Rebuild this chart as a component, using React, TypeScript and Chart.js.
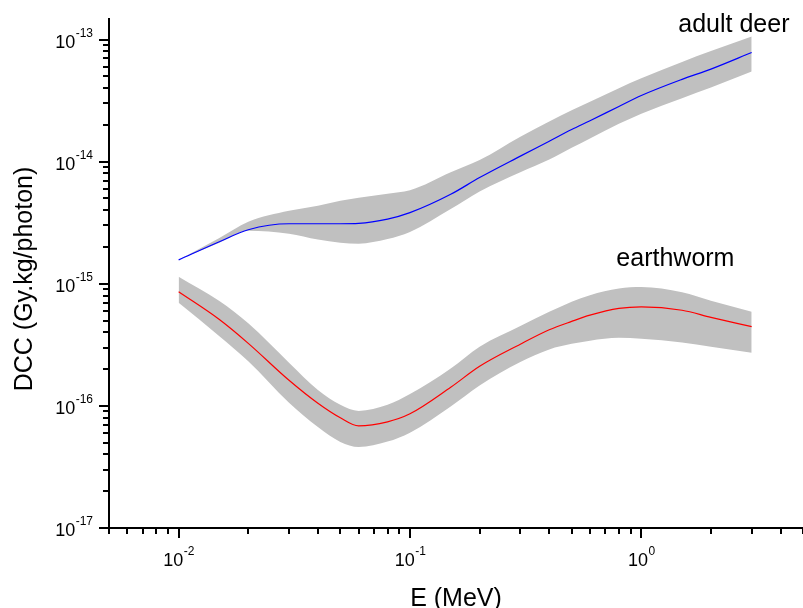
import React, { useEffect, useRef } from "react";
import { Chart, registerables } from "chart.js";

Chart.register(...registerables);

const energies = [0.01, 0.015, 0.02, 0.03, 0.04, 0.05, 0.06, 0.08, 0.1, 0.15, 0.2, 0.3, 0.4, 0.5, 0.6, 0.8, 1, 1.5, 2, 3];

const deerCenter = [1.57e-15, 2.21e-15, 2.77e-15, 3.10e-15, 3.10e-15, 3.10e-15, 3.12e-15, 3.38e-15, 3.82e-15, 5.40e-15, 7.41e-15, 1.11e-14, 1.47e-14, 1.83e-14, 2.16e-14, 2.83e-14, 3.48e-14, 4.72e-14, 5.72e-14, 7.82e-14];
const deerUpper = [1.57e-15, 2.37e-15, 3.22e-15, 3.96e-15, 4.36e-15, 4.79e-15, 5.07e-15, 5.47e-15, 5.82e-15, 8.18e-15, 1.03e-14, 1.60e-14, 2.13e-14, 2.63e-14, 3.09e-14, 3.99e-14, 4.81e-14, 6.55e-14, 8.04e-14, 1.06e-13];
const deerLower = [1.57e-15, 2.17e-15, 2.72e-15, 2.57e-15, 2.30e-15, 2.17e-15, 2.13e-15, 2.32e-15, 2.65e-15, 4.09e-15, 5.70e-15, 8.20e-15, 1.04e-14, 1.30e-14, 1.55e-14, 2.04e-14, 2.47e-14, 3.31e-14, 4.04e-14, 5.47e-14];

const wormCenter = [8.59e-16, 5.09e-16, 3.25e-16, 1.62e-16, 1.05e-16, 7.98e-17, 6.85e-17, 7.40e-17, 8.61e-17, 1.42e-16, 2.11e-16, 3.20e-16, 4.20e-16, 4.92e-16, 5.53e-16, 6.28e-16, 6.47e-16, 6.07e-16, 5.31e-16, 4.45e-16];
const wormUpper = [1.14e-15, 7.21e-16, 4.74e-16, 2.26e-16, 1.35e-16, 1.02e-16, 9.10e-17, 1.02e-16, 1.25e-16, 2.02e-16, 3.05e-16, 4.50e-16, 5.89e-16, 7.13e-16, 8.07e-16, 9.14e-16, 9.40e-16, 8.51e-16, 7.26e-16, 5.89e-16];
const wormLower = [6.98e-16, 3.72e-16, 2.32e-16, 1.06e-16, 6.71e-17, 5.07e-17, 4.61e-17, 5.10e-17, 6.03e-17, 9.89e-17, 1.47e-16, 2.29e-16, 2.90e-16, 3.22e-16, 3.42e-16, 3.61e-16, 3.54e-16, 3.31e-16, 3.05e-16, 2.72e-16];

const xMajorExponents = [-2, -1, 0];
const yMajorExponents = [-17, -16, -15, -14, -13];
const xTitle = "E (MeV)";
const yTitle = "DCC (Gy.kg/photon)";
const annotations = [
  { text: "adult deer", x: 1.445, y: 1.16e-13 },
  { text: "earthworm", x: 0.78, y: 1.41e-15 },
];

const FONT = "'Liberation Sans', Arial, sans-serif";

const pts = (ys: number[]) => energies.map((e, i) => ({ x: e, y: ys[i] }));

const axesPlugin = {
  id: "customAxes",
  afterDraw(chart: any) {
    const ctx = chart.ctx as CanvasRenderingContext2D;
    const xs = chart.scales.x;
    const ys = chart.scales.y;
    const area = chart.chartArea;
    ctx.save();
    ctx.strokeStyle = "#000";
    ctx.fillStyle = "#000";
    ctx.lineWidth = 2;
    ctx.beginPath();
    ctx.moveTo(area.left, area.top);
    ctx.lineTo(area.left, area.bottom + 1);
    ctx.moveTo(area.left - 1, area.bottom);
    ctx.lineTo(area.right, area.bottom);
    ctx.stroke();
    for (let d = -3; d <= 1; d++) {
      for (let m = 1; m <= 9; m++) {
        const v = m * Math.pow(10, d);
        if (v < xs.min * 0.999 || v > xs.max * 1.001) continue;
        const px = Math.round(xs.getPixelForValue(v));
        const len = m === 1 ? 10 : 6;
        ctx.beginPath();
        ctx.moveTo(px, area.bottom);
        ctx.lineTo(px, area.bottom + len);
        ctx.stroke();
      }
    }
    for (let d = -18; d <= -12; d++) {
      for (let m = 1; m <= 9; m++) {
        const v = m * Math.pow(10, d);
        if (v < ys.min * 0.999 || v > ys.max * 1.001) continue;
        const py = Math.round(ys.getPixelForValue(v));
        const len = m === 1 ? 10 : 6;
        ctx.beginPath();
        ctx.moveTo(area.left, py);
        ctx.lineTo(area.left - len, py);
        ctx.stroke();
      }
    }
    ctx.textBaseline = "alphabetic";
    for (const e of xMajorExponents) {
      const px = xs.getPixelForValue(Math.pow(10, e));
      ctx.font = `18px ${FONT}`;
      const w1 = ctx.measureText("10").width;
      ctx.font = `12px ${FONT}`;
      const sup = String(e);
      const w2 = ctx.measureText(sup).width;
      const start = px - (w1 + w2) / 2;
      ctx.font = `18px ${FONT}`;
      ctx.textAlign = "left";
      ctx.fillText("10", start, area.bottom + 38);
      ctx.font = `12px ${FONT}`;
      ctx.fillText(sup, start + w1 + 0.5, area.bottom + 27);
    }
    for (const e of yMajorExponents) {
      const py = ys.getPixelForValue(Math.pow(10, e));
      const sup = String(e);
      ctx.font = `12px ${FONT}`;
      const w2 = ctx.measureText(sup).width;
      ctx.font = `18px ${FONT}`;
      const w1 = ctx.measureText("10").width;
      const right = area.left - 16;
      ctx.textAlign = "left";
      ctx.fillText("10", right - w2 - w1 - 0.5, py + 8);
      ctx.font = `12px ${FONT}`;
      ctx.fillText(sup, right - w2, py - 3);
    }
    ctx.font = `25px ${FONT}`;
    ctx.textAlign = "center";
    ctx.fillText(xTitle, (area.left + area.right) / 2, 606);
    ctx.save();
    ctx.translate(32, 279);
    ctx.rotate(-Math.PI / 2);
    ctx.fillText(yTitle, 0, 0);
    ctx.restore();
    ctx.font = `25px ${FONT}`;
    ctx.textAlign = "left";
    for (const a of annotations) {
      ctx.fillText(a.text, xs.getPixelForValue(a.x), ys.getPixelForValue(a.y));
    }
    ctx.restore();
  },
};

export default function App() {
  const ref = useRef<HTMLCanvasElement | null>(null);
  useEffect(() => {
    if (!ref.current) return;
    const band = "#c0c0c0";
    const common = { pointRadius: 0, cubicInterpolationMode: "monotone" as const };
    const chart = new Chart(ref.current, {
      type: "line",
      data: {
        datasets: [
          { ...common, data: pts(deerCenter), borderColor: "#0000ff", borderWidth: 1.2, fill: false, order: 0 },
          { ...common, data: pts(wormCenter), borderColor: "#ff0000", borderWidth: 1.2, fill: false, order: 0 },
          { ...common, data: pts(deerUpper), borderWidth: 0, borderColor: band, backgroundColor: band, fill: "+1", order: 1 },
          { ...common, data: pts(deerLower), borderWidth: 0, borderColor: band, fill: false, order: 1 },
          { ...common, data: pts(wormUpper), borderWidth: 0, borderColor: band, backgroundColor: band, fill: "+1", order: 1 },
          { ...common, data: pts(wormLower), borderWidth: 0, borderColor: band, fill: false, order: 1 },
        ],
      },
      options: {
        animation: false,
        responsive: false,
        layout: { padding: { left: 109, right: 0, top: 18, bottom: 80 } },
        plugins: { legend: { display: false }, tooltip: { enabled: false } },
        scales: {
          x: { type: "logarithmic", min: 0.005, max: 5, display: false },
          y: { type: "logarithmic", min: 1e-17, max: 1.5e-13, display: false },
        },
      },
      plugins: [axesPlugin],
    });
    return () => chart.destroy();
  }, []);
  return (
    <div style={{ position: "absolute", left: 0, top: 0, width: 803, height: 608, background: "#fff" }}>
      <canvas ref={ref} width={803} height={608} style={{ width: 803, height: 608 }} />
    </div>
  );
}
